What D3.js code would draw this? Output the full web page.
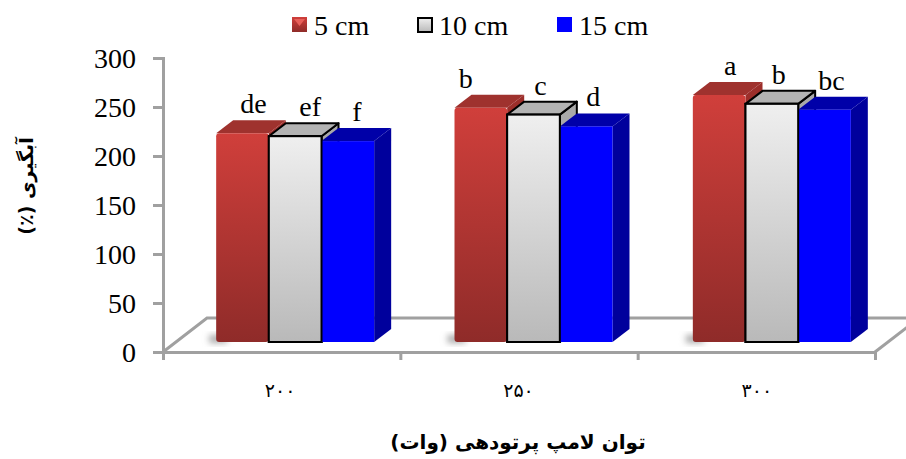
<!DOCTYPE html>
<html>
<head>
<meta charset="utf-8">
<script src="https://cdn.jsdelivr.net/npm/d3@7"></script>
<style>
  html, body { margin: 0; padding: 0; background: #fff; }
  svg { display: block; }
  text { font-family: "Liberation Serif", serif; fill: #000; }
  .fa { font-family: "DejaVu Sans", sans-serif; }
</style>
</head>
<body>
<div id="chart"></div>
<script>
// data
const powers = ["۲۰۰", "۲۵۰", "۳۰۰"]
const seriesNames = ["5 cm", "10 cm", "15 cm"]
const values5 = [213, 239, 252]
const values10 = [210, 232, 243]
const values15 = [205, 220, 237]
const letters5 = ["de", "b", "a"]
const letters10 = ["ef", "c", "b"]
const letters15 = ["f", "d", "bc"]
const yTicks = [0, 50, 100, 150, 200, 250, 300]
const xTitle = "توان لامپ پرتودهی (وات)"
const yTitle = "آبگیری (٪)"

// dimensions
const width = 906, height = 459
const plot = { left: 163, right: 875, top: 58, bottom: 352 }
const wall = { dx: 44, dy: -34 }   // floor depth
const bar = { dx: 17, dy: -13, lift: 10, shift: 13 }

const svg = d3.select("#chart").append("svg")
  .attr("width", width)
  .attr("height", height)

const defs = svg.append("defs")
function gradient(id, top, bottom) {
  const g = defs.append("linearGradient").attr("id", id)
    .attr("x1", 0).attr("x2", 0).attr("y1", 0).attr("y2", 1)
  g.append("stop").attr("offset", "0%").attr("stop-color", top)
  g.append("stop").attr("offset", "100%").attr("stop-color", bottom)
}
gradient("redFront", "#d03f3b", "#8f2b29")
gradient("grayFront", "#efefef", "#b9b9b9")
defs.append("filter").attr("id", "soft")
  .attr("x", "-10%").attr("y", "-10%").attr("width", "120%").attr("height", "120%")
  .append("feGaussianBlur").attr("stdDeviation", 0.7)
defs.append("filter").attr("id", "shadow")
  .attr("x", "-50%").attr("y", "-50%").attr("width", "200%").attr("height", "200%")
  .append("feGaussianBlur").attr("stdDeviation", 3)

// scales
const yScale = d3.scaleLinear().domain([0, 300]).range([plot.bottom, plot.top])
const xScale = d3.scaleBand().domain(d3.range(powers.length))
  .range([plot.left, plot.right + 3])
const seriesScale = d3.scaleBand().domain(d3.range(seriesNames.length))
  .range([0, 158])
  .padding(0)
const groupStart = i => xScale(i) + (xScale.bandwidth() - 158) / 2 + bar.shift

// floor
const axisColor = "#a0a0a0"
const floor = svg.append("g").attr("fill", "none").attr("stroke", axisColor).attr("stroke-width", 3)
floor.append("path").attr("d", `M${plot.left},${plot.bottom}L${plot.left + wall.dx},${plot.bottom + wall.dy}H${width + 5}`)
floor.append("path").attr("d", `M${plot.right},${plot.bottom}L${plot.right + wall.dx},${plot.bottom + wall.dy}`)

// axes
const yAxis = svg.append("g")
  .attr("transform", `translate(${plot.left},0)`)
  .call(d3.axisLeft(yScale).tickValues(yTicks).tickSize(10).tickPadding(17))
const xAxis = svg.append("g")
  .attr("transform", `translate(0,${plot.bottom})`)
  .call(d3.axisBottom(d3.scalePoint().domain(d3.range(4)).range([plot.left, plot.right]))
    .tickSize(8).tickFormat(""))
svg.selectAll(".domain, .tick line").attr("stroke", axisColor).attr("stroke-width", 3)
yAxis.selectAll("text").attr("font-size", 28).attr("y", 1).style("font-family", '"Liberation Serif", serif').attr("fill", "#000")

svg.append("g").selectAll("text").data(powers).join("text")
  .attr("class", "fa")
  .attr("x", (d, i) => xScale(i) + xScale.bandwidth() / 2 - 2)
  .attr("y", 397)
  .attr("text-anchor", "middle")
  .attr("font-size", 19)
  .attr("letter-spacing", 6)
  .text(d => d)

// bars
const series = [
  { values: values5, letters: letters5, front: "url(#redFront)", top: "#9f302d", side: "#9c2e2c", stroke: "none", nudge: [11, -15, 11] },
  { values: values10, letters: letters10, front: "url(#grayFront)", top: "#b3b3b3", side: "#a9a9a9", stroke: "#000", nudge: [15, 7, 7] },
  { values: values15, letters: letters15, front: "#0000ff", top: "#0000a8", side: "#00009c", stroke: "none", nudge: [9, 7, 7] },
]
const base = plot.bottom - bar.lift
const bars = svg.append("g")

powers.forEach((p, i) => {
  const g = bars.append("g")
  const gx = groupStart(i)
  const w = seriesScale.bandwidth()

  g.append("rect")
    .attr("x", gx - 7).attr("y", base - 7).attr("width", 18).attr("height", 8)
    .attr("fill", "#aaa").attr("filter", "url(#shadow)")

  const drawFront = (s, k) => {
    const x = gx + seriesScale(k), y = yScale(s.values[i]) - bar.lift
    g.append("rect")
      .attr("x", x).attr("y", y).attr("width", w).attr("height", base - y)
      .attr("rx", k === 0 ? 3 : 0)
      .attr("fill", s.front)
      .attr("stroke", s.stroke).attr("stroke-width", 2)
  }

  series.forEach((s, k) => {
    const x = gx + seriesScale(k), y = yScale(s.values[i]) - bar.lift
    const soft = k === 0 ? "url(#soft)" : null
    g.append("path")
      .attr("d", `M${x + w},${y}l${bar.dx},${bar.dy}V${base + bar.dy}l${-bar.dx},${-bar.dy}Z`)
      .attr("fill", s.side).attr("filter", soft)
      .attr("stroke", s.stroke).attr("stroke-width", 2).attr("stroke-linejoin", "round")
    g.append("path")
      .attr("d", `M${x},${y}l${bar.dx},${bar.dy}h${w}l${-bar.dx},${-bar.dy}Z`)
      .attr("fill", s.top).attr("filter", soft)
      .attr("stroke", s.stroke).attr("stroke-width", 2).attr("stroke-linejoin", "round")
    drawFront(s, k)
  })
  // the grey face sits over the blue one's left edge
  drawFront(series[1], 1)

  series.forEach((s, k) => {
    g.append("text")
      .attr("x", gx + seriesScale(k) + w / 2 + s.nudge[i])
      .attr("y", yScale(s.values[i]) - bar.lift - 20)
      .attr("text-anchor", "middle")
      .attr("font-size", 28)
      .text(s.letters[i])
  })
})

// legend
const legendX = [292, 417, 557]
const legend = svg.append("g").selectAll("g").data(seriesNames).join("g")
  .attr("transform", (d, i) => `translate(${legendX[i]},17)`)
legend.append("rect")
  .attr("width", (d, i) => i === 1 ? 14 : 15)
  .attr("height", (d, i) => i === 1 ? 14 : 15)
  .attr("x", (d, i) => i === 1 ? 1 : 0)
  .attr("y", (d, i) => i === 1 ? 1 : 0)
  .attr("fill", (d, i) => series[i].front)
  .attr("stroke", (d, i) => series[i].stroke)
  .attr("stroke-width", 2)
legend.filter((d, i) => i === 0).append("path")
  .attr("d", "M2,2H13L7.5,9Z").attr("fill", "#e8605a")
legend.append("text")
  .attr("x", 22)
  .attr("y", 18)
  .attr("font-size", 28)
  .text(d => d)

// titles
svg.append("text").attr("class", "fa")
  .attr("x", 518).attr("y", 449)
  .attr("text-anchor", "middle")
  .attr("font-size", 20).attr("font-weight", "bold")
  .attr("direction", "rtl")
  .text(xTitle)
svg.append("text").attr("class", "fa")
  .attr("transform", "translate(33,186) rotate(-90)")
  .attr("text-anchor", "middle")
  .attr("font-size", 19).attr("font-weight", "bold")
  .attr("direction", "rtl")
  .text(yTitle)
</script>
</body>
</html>
